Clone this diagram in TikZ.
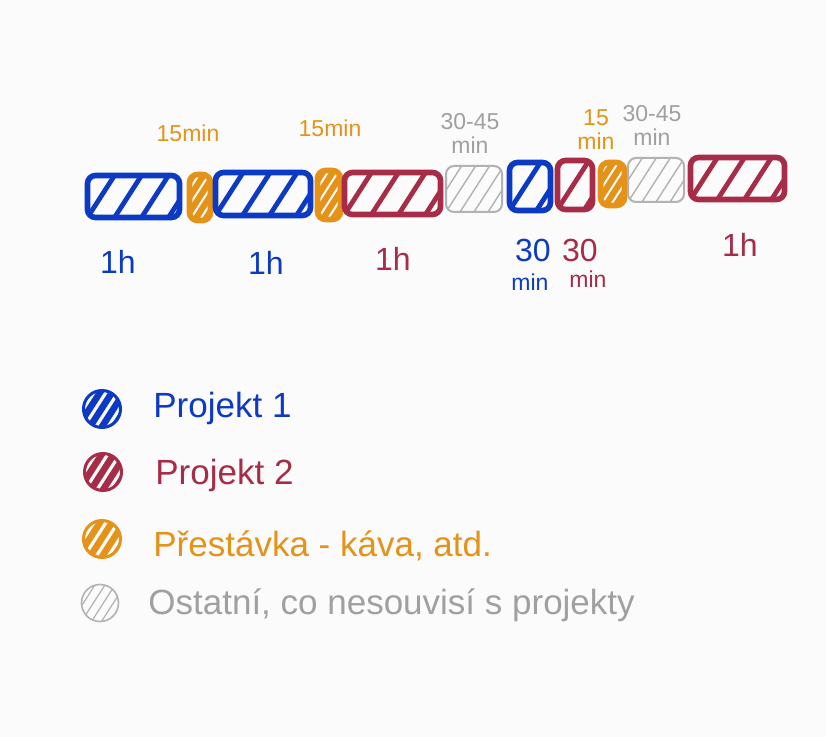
\documentclass[tikz,border=0pt]{standalone}
\usepackage{fontspec}
\setmainfont{Liberation Sans}
\usetikzlibrary{positioning}
\definecolor{pblue}{RGB}{12,58,196}
\definecolor{pred}{RGB}{166,44,72}
\definecolor{porange}{RGB}{229,146,24}
\definecolor{pgrey}{RGB}{178,178,178}
\definecolor{tgrey}{RGB}{160,160,160}
\definecolor{paper}{RGB}{251,251,251}
\tikzset{
    slot/.style={
           rectangle,
           rounded corners=4pt,
           line width=2.8pt,
           inner sep=0pt,
           fill=paper,
           },
    hatch/.style n args={2}{
           path picture={
             \foreach \k in {-6,...,14}{
               \draw[#1] ([xshift=\k*#2]path picture bounding box.south west) -- ++(18pt,28pt);
             }}},
    proj1/.style={slot, draw=pblue, hatch={pblue,line width=2.4pt}{13.5pt}},
    proj2/.style={slot, draw=pred, hatch={pred,line width=2.4pt}{13.5pt}},
    pauza/.style={slot, draw=porange, fill=porange, hatch={paper,line width=1pt}{5pt}},
    other/.style={slot, line width=1pt, draw=pgrey, hatch={pgrey,line width=0.7pt}{7pt}},
    dot/.style={circle, inner sep=0pt, minimum size=18.5pt, line width=1.5pt},
    note/.style={inner sep=0pt, align=center, font=\fontsize{11.5}{12}\selectfont},
    dur/.style={inner sep=0pt, font=\fontsize{16}{16}\selectfont},
    legend/.style={anchor=base west, inner sep=0pt, font=\fontsize{17.5}{18}\selectfont},
}
\begin{document}
\begin{tikzpicture}[x=0.5pt,y=-0.5pt]
  \path[use as bounding box, fill=paper] (0,0) rectangle (826,737);

  % time line
  \node[proj1, minimum width=46pt,   minimum height=21pt]   (b1)  at (133.5,196.5) {};
  \node[pauza, minimum width=10.5pt, minimum height=23pt]   (b2)  at (200,197.5) {};
  \node[proj1, minimum width=47.5pt, minimum height=21.5pt] (b3)  at (263,194) {};
  \node[pauza, minimum width=11.5pt, minimum height=24.5pt] (b4)  at (329,195) {};
  \node[proj2, minimum width=48pt,   minimum height=21pt]   (b5)  at (392.5,193.5) {};
  \node[other, minimum width=28pt,   minimum height=23pt]   (b6)  at (474,189) {};
  \node[proj1, minimum width=20.5pt, minimum height=24pt]   (b7)  at (530,186.5) {};
  \node[proj2, minimum width=17.5pt, minimum height=24.5pt] (b8)  at (575,185) {};
  \node[pauza, minimum width=12pt,   minimum height=21.5pt] (b9)  at (612.5,184) {};
  \node[other, minimum width=28pt,   minimum height=22pt]   (b10) at (656,180) {};
  \node[proj2, minimum width=47pt,   minimum height=21pt]   (b11) at (737.5,178.5) {};

  % durations above
  \node[note, text=porange] (n2)  at (188,133) {15min};
  \node[note, text=porange] (n4)  at (330,128) {15min};
  \node[note, text=tgrey]   (n6)  at (470,133) {30-45\\min};
  \node[note, text=porange] (n9)  at (596,130) {15\\min};
  \node[note, text=tgrey]   (n10) at (652,125) {30-45\\min};

  % durations below
  \node[dur, text=pblue] (d1)  at (118,262) {1h};
  \node[dur, text=pblue] (d3)  at (266,263) {1h};
  \node[dur, text=pred]  (d5)  at (393,259) {1h};
  \node[dur, text=pblue] (d7)  at (533,250) {30};
  \node[note, text=pblue] (m7) at (530,282) {min};
  \node[dur, text=pred]  (d8)  at (580,250) {30};
  \node[note, text=pred]  (m8) at (588,279) {min};
  \node[dur, text=pred]  (d11) at (740,245) {1h};

  % legend
  \node[dot, draw=pblue,   fill=pblue,   hatch={paper,line width=1.6pt}{6pt}] (l1) at (102,409) {};
  \node[dot, draw=pred,    fill=pred,    hatch={paper,line width=1.6pt}{6pt}] (l2) at (103,472) {};
  \node[dot, draw=porange, fill=porange, hatch={paper,line width=1.6pt}{6pt}] (l3) at (102,539) {};
  \node[dot, line width=0.8pt, draw=pgrey, fill=paper, hatch={pgrey,line width=0.6pt}{5pt}] (l4) at (100,603) {};
  \node[legend, text=pblue]   (t1) at (153,418) {Projekt 1};
  \node[legend, text=pred]    (t2) at (155,485) {Projekt 2};
  \node[legend, text=porange] (t3) at (153,557) {Přestávka - káva, atd.};
  \node[legend, text=tgrey]   (t4) at (148,615) {Ostatní, co nesouvisí s projekty};
\end{tikzpicture}
\end{document}
